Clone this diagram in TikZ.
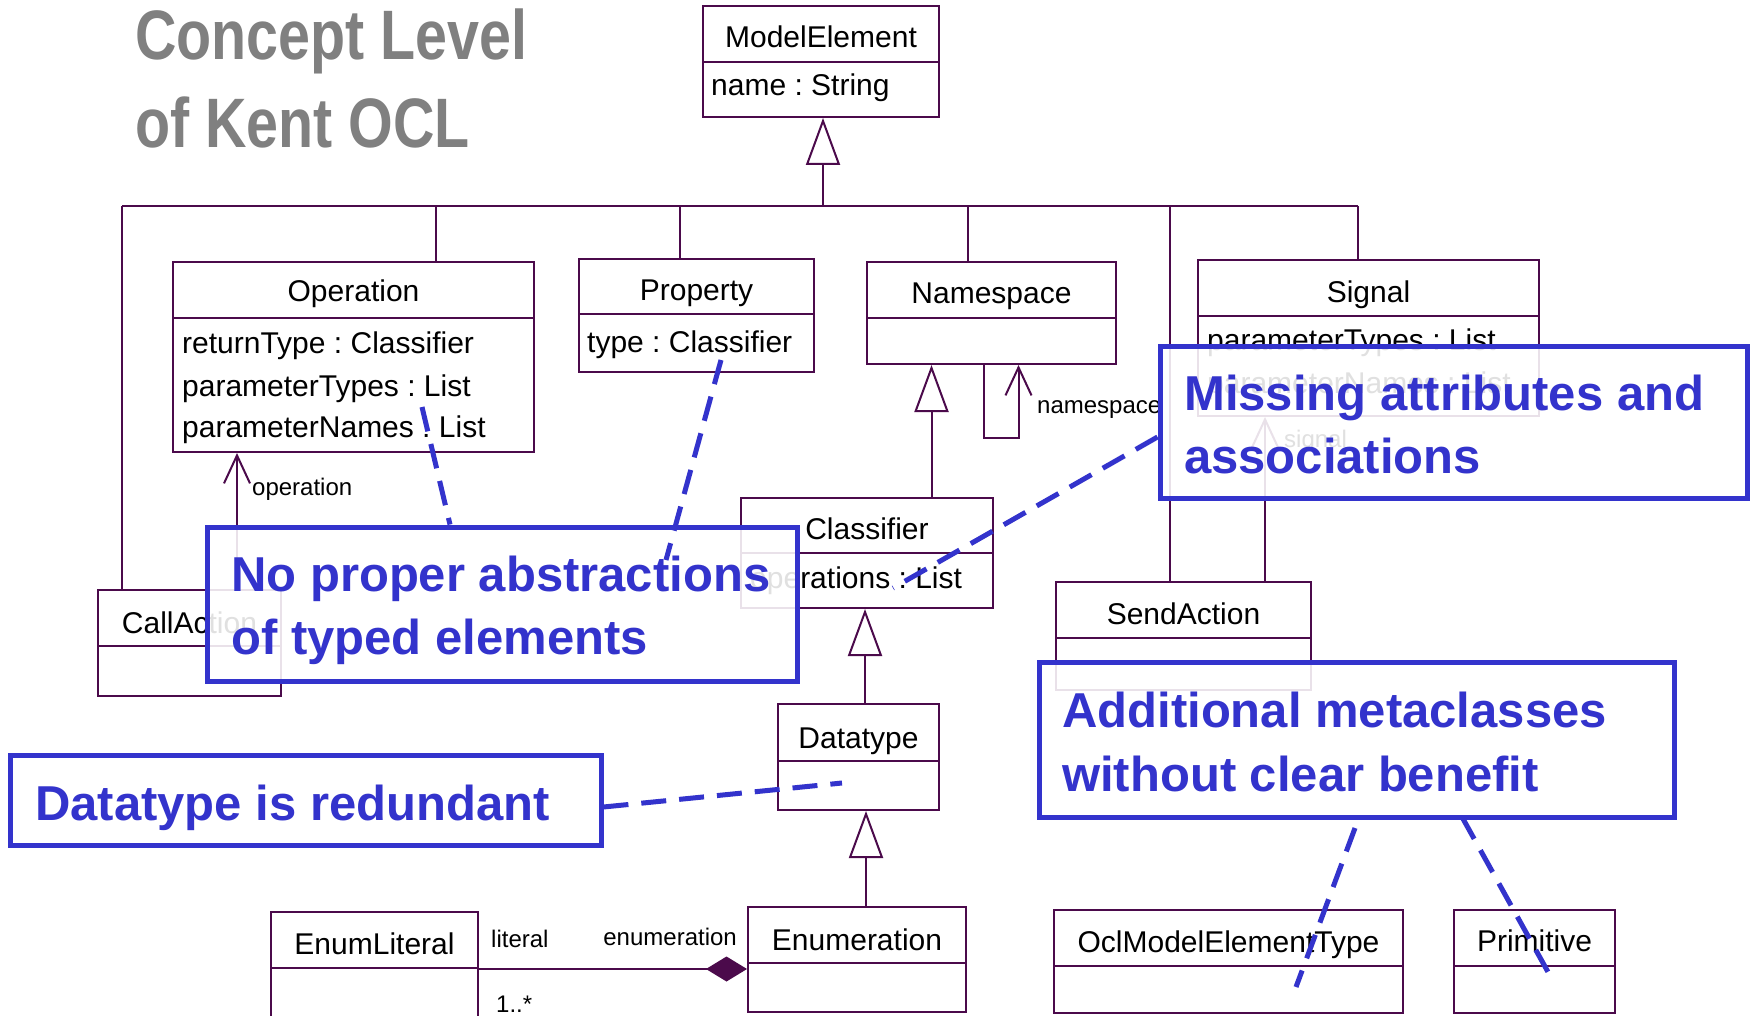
\documentclass[tikz,border=0pt]{standalone}
\usepackage{fontspec}
\usepackage{graphicx}
\setmainfont{Liberation Sans}
\frenchspacing
\usetikzlibrary{arrows.meta,fit}
\definecolor{umlc}{RGB}{75,10,75}
\definecolor{callc}{RGB}{51,51,204}
\definecolor{titlec}{RGB}{128,128,128}
\newcommand\umlbox[6]{%
  \coordinate (#1-a) at (#2,#3);
  \coordinate (#1-b) at (#4,#6);
  \node[cls, fit=(#1-a)(#1-b)] (#1) {};
  \draw[umlline] (#2,#5) -- (#4,#5);
}
\begin{document}
\begin{tikzpicture}[x=1pt,y=-1pt,
  cls/.style={draw=umlc, line width=2pt, inner sep=0pt},
  umlline/.style={draw=umlc, line width=2pt},
  ctitle/.style={anchor=base, inner sep=0pt, font=\fontsize{30}{36}\selectfont},
  cattr/.style={anchor=base west, inner sep=0pt, font=\fontsize{30}{36}\selectfont},
  lbl/.style={anchor=base west, inner sep=0pt, font=\fontsize{24}{28}\selectfont},
  gen/.style={umlline, -{Triangle[length=47pt,width=34pt,fill=white]}},
  assoc/.style={umlline, -{Straight Barb[length=28pt,width=26pt]}},
  comp/.style={umlline, -{Diamond[length=41pt,width=25pt]}},
  callout/.style={draw=callc, line width=5pt, fill=white, fill opacity=0.88, text opacity=1, inner sep=0pt},
  ctext/.style={anchor=base west, inner sep=0pt, text=callc, font=\fontsize{49}{60}\selectfont\bfseries},
  dsh/.style={draw=callc, line width=5pt, dash pattern=on 25pt off 13pt},
  ttl/.style={anchor=base west, inner sep=0pt, text=titlec, font=\fontsize{70}{80}\selectfont\bfseries}
]
\useasboundingbox (0,0) rectangle (1752,1016);
\fill[white] (0,0) rectangle (1752,1016);

% title
\node[ttl] (t1) at (135,60) {\scalebox{0.82}[1]{Concept Level}};
\node[ttl] (t2) at (135,148) {\scalebox{0.82}[1]{of Kent OCL}};

% classes
\umlbox{me}{703}{6}{939}{62}{117}
\node[ctitle] (meT) at (821,48) {ModelElement};
\node[cattr] (meA) at (711,96) {name : String};

\umlbox{op}{173}{262}{534}{318}{452}
\node[ctitle] (opT) at (353.5,301) {Operation};
\node[cattr] (opA1) at (182,353) {returnType : Classifier};
\node[cattr] (opA2) at (182,396) {parameterTypes : List};
\node[cattr] (opA3) at (182,437) {parameterNames : List};

\umlbox{prop}{579}{259}{814}{314}{372}
\node[ctitle] (propT) at (696.5,300) {Property};
\node[cattr] (propA) at (587,352) {type : Classifier};

\umlbox{ns}{867}{262}{1116}{318}{364}
\node[ctitle] (nsT) at (991.5,303) {Namespace};

\umlbox{sig}{1198}{260}{1539}{316}{416}
\node[ctitle] (sigT) at (1368.5,302) {Signal};
\node[cattr] (sigA1) at (1207,350) {parameterTypes : List};
\node[cattr] (sigA2) at (1207,393) {parameterNames : List};

\umlbox{clf}{741}{498}{993}{553}{608}
\node[ctitle] (clfT) at (867,539) {Classifier};
\node[cattr] (clfA) at (750,588) {operations : List};

\umlbox{dt}{778}{704}{939}{761}{810}
\node[ctitle] (dtT) at (858.5,748) {Datatype};

\umlbox{enm}{748}{907}{966}{963}{1012}
\node[ctitle] (enmT) at (857,950) {Enumeration};

\umlbox{lit}{271}{912}{478}{968}{1030}
\node[ctitle] (litT) at (374.5,954) {EnumLiteral};

\umlbox{call}{98}{590}{281}{646}{696}
\node[ctitle] (callT) at (189.5,633) {CallAction};

\umlbox{send}{1056}{582}{1311}{638}{690}
\node[ctitle] (sendT) at (1183.5,624) {SendAction};

\umlbox{ocl}{1054}{910}{1403}{966}{1013}
\node[ctitle] (oclT) at (1228.5,952) {OclModelElementType};

\umlbox{prim}{1454}{910}{1615}{966}{1013}
\node[ctitle] (primT) at (1534.5,951) {Primitive};

% generalization bus to ModelElement
\coordinate (busL) at (122,206);
\coordinate (busR) at (1358,206);
\coordinate (busM) at (823,206);
\coordinate (b1) at (436,206);
\coordinate (b2) at (680,206);
\coordinate (b3) at (968,206);
\coordinate (b4) at (1170,206);
\draw[umlline] (busL) -- (busR);
\draw[umlline] (busL) -- (busL |- call.north);
\draw[umlline] (b1) -- (b1 |- op.north);
\draw[umlline] (b2) -- (b2 |- prop.north);
\draw[umlline] (b3) -- (b3 |- ns.north);
\draw[umlline] (b4) -- (b4 |- send.north);
\draw[umlline] (busR) -- (busR |- sig.north);
\draw[gen] (busM) -- (busM |- me.south);

% other generalizations
\coordinate (g1) at (931.5,498);
\draw[gen] (g1) -- (g1 |- ns.south);
\coordinate (g2) at (865,704);
\draw[gen] (g2) -- (g2 |- clf.south);
\coordinate (g3) at (866,907);
\draw[gen] (g3) -- (g3 |- dt.south);

% associations
\coordinate (a1) at (237,590);
\draw[assoc] (a1) -- (a1 |- op.south);
\node[lbl] (opL) at (252,495) {operation};

\coordinate (n1) at (984,438);
\coordinate (n2) at (1018.5,438);
\draw[assoc] (n1 |- ns.south) -- (n1) -- (n2) -- (n2 |- ns.south);
\node[lbl] (nsL) at (1037,413) {namespace};

\coordinate (s1) at (1265,582);
\draw[assoc] (s1) -- (s1 |- sig.south);
\node[lbl] (sigL) at (1284,447) {signal};

\coordinate (c1) at (478,969);
\draw[comp] (c1) -- (c1 -| enm.west);
\node[lbl] (litL) at (491,947) {literal};
\node[lbl, anchor=base east] (enmL) at (737,945) {enumeration};
\node[lbl] (mulL) at (496,1012) {1..*};

% callouts
\coordinate (miss-a) at (1160,346);
\coordinate (miss-b) at (1747,498);
\node[callout, fit=(miss-a)(miss-b)] (miss) {};
\node[ctext] (missT1) at (1184,410) {Missing attributes and};
\node[ctext] (missT2) at (1184,473) {associations};

\coordinate (np-a) at (207,527);
\coordinate (np-b) at (797,681);
\node[callout, fit=(np-a)(np-b)] (np) {};
\node[ctext] (npT1) at (231,591) {No proper abstractions};
\node[ctext] (npT2) at (231,654) {of typed elements};

\coordinate (dr-a) at (10,755);
\coordinate (dr-b) at (601,845);
\node[callout, fit=(dr-a)(dr-b)] (dr) {};
\node[ctext] (drT) at (35,820) {Datatype is redundant};

\coordinate (ad-a) at (1039,662);
\coordinate (ad-b) at (1674,817);
\node[callout, fit=(ad-a)(ad-b)] (ad) {};
\node[ctext] (adT1) at (1062,727) {Additional metaclasses};
\node[ctext] (adT2) at (1062,791) {without clear benefit};

% dashed connectors
\coordinate (m1) at (0,437);
\coordinate (m2) at (893,588);
\draw[dsh] (miss.west |- m1) -- (m2);

\coordinate (p1) at (422,407);
\coordinate (p2) at (450,0);
\draw[dsh] (p1) -- (p2 |- np.north);

\coordinate (q1) at (721,360);
\coordinate (q2) at (666,560);
\draw[dsh] (q1) -- (q2);

\coordinate (r1) at (0,807);
\coordinate (r2) at (842,783);
\draw[dsh] (dr.east |- r1) -- (r2);

\coordinate (u1) at (1355,828);
\coordinate (u2) at (1296,987);
\draw[dsh] (u1) -- (u2);

\coordinate (v1) at (1462,817);
\coordinate (v2) at (1553,981);
\draw[dsh] (v1) -- (v2);
\end{tikzpicture}
\end{document}
